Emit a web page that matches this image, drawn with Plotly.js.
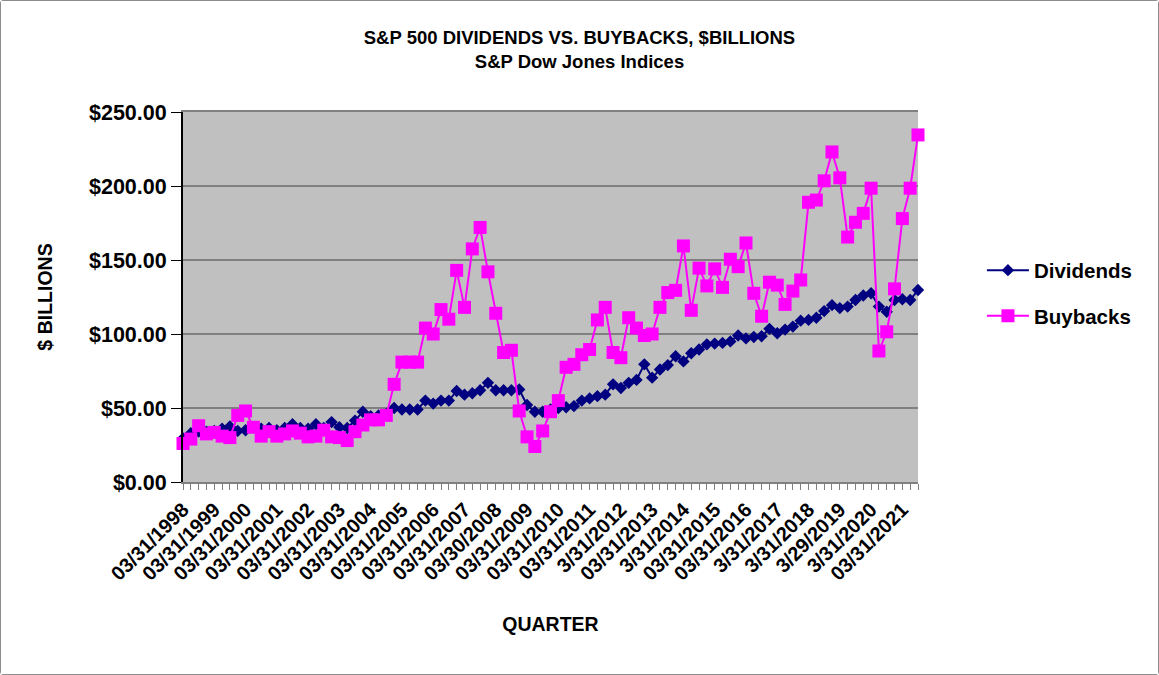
<!DOCTYPE html>
<html>
<head>
<meta charset="utf-8">
<script src="https://cdn.plot.ly/plotly-3.0.1.min.js"></script>
<style>
	html, body { margin: 0; padding: 0; background: #ffffff; }
	#chart { width: 1157px; height: 673px; border: 1px solid #8c8c8c; border-radius: 3px; }
</style>
</head>
<body>
<div id="chart"></div>
<script>
// labels on the first quarter of each year, as printed on the axis
var year_labels = [
	"03/31/1998", "03/31/1999", "03/31/2000", "03/31/2001", "03/31/2002",
	"03/31/2003", "03/31/2004", "03/31/2005", "03/31/2006", "03/31/2007",
	"03/30/2008", "03/31/2009", "03/31/2010", "03/31/2011", "3/31/2012",
	"03/31/2013", "3/31/2014", "03/31/2015", "03/31/2016", "3/31/2017",
	"3/31/2018", "3/29/2019", "3/31/2020", "03/31/2021"
];

// quarterly values, Q1 1998 .. Q3 2021, $ billions
var dividends = [
	29.5, 33, 34, 34, 34.5, 36, 37.5, 34.5, 35, 37,
	36, 36.5, 35, 36.5, 39, 36.5, 36, 39, 36.5, 40.5,
	37, 36.5, 41.5, 47.5, 44.5, 45, 46, 50, 49, 49,
	49, 55, 53, 55, 55, 61.5, 59, 60, 62, 67,
	62, 62, 62, 62.5, 52, 47.5, 47.5, 49, 50, 50.5,
	51.3, 55, 56.5, 58, 59, 66, 63.5, 67, 69, 79.5,
	70.5, 76, 79, 85, 81.5, 87, 89.5, 93, 93.5, 94,
	95, 99, 97, 98, 98.5, 103.5, 100.5, 103, 105, 109,
	109.5, 111, 115.5, 119.5, 117.5, 118.5, 123, 126, 127.5, 118.5,
	115, 123, 123.5, 123, 129.7
];

var buybacks = [
	26, 29, 38, 32.5, 33.5, 31, 30, 45, 48, 37,
	31, 34, 31, 32.5, 34.5, 33, 30.5, 31, 35, 30.5,
	30, 28, 34, 38.5, 42, 42, 45, 66, 81, 81,
	81, 104, 100, 116.5, 110, 143, 118, 157.5, 172, 142,
	114, 87.5, 89, 48, 30.5, 24, 34.5, 47.5, 55, 77.5,
	79.5, 86, 89.5, 109.5, 118, 87.5, 84, 111, 104, 99,
	100, 118, 128, 129.5, 159.5, 116, 144.5, 132.5, 144, 131.5,
	150.5, 145.5, 161.5, 127.5, 112, 135, 133, 120, 129, 136.5,
	189, 190.5, 203.5, 223, 205.5, 165.5, 175.5, 181.5, 198.5, 88.5,
	101.5, 130.5, 178, 198.5, 234.5
];

var font_family = "Liberation Sans, Arial, Helvetica, sans-serif";

function setup()
{
	var quarter = dividends.map((v, i) => i);
	var tick_pos = year_labels.map((s, i) => i * 4);

	var div_trace =
	{
		type: "scatter",
		mode: "lines+markers",
		name: "Dividends",
		legendgroup: "d",
		x: quarter,
		y: dividends,
		cliponaxis: false,
		line: {color: "#000080", width: 2},
		marker: {symbol: "diamond", size: 9.5, color: "#000080"},
		hoverinfo: "y"
	};

	var buy_trace =
	{
		type: "scatter",
		mode: "lines+markers",
		name: "Buybacks",
		legendgroup: "b",
		x: quarter,
		y: buybacks,
		cliponaxis: false,
		line: {color: "#ff00ff", width: 2},
		marker: {symbol: "square", size: 13, color: "#ff00ff"},
		hoverinfo: "y"
	};

	var layout =
	{
		width: 1157,
		height: 673,
		margin: {l: 182, r: 240, t: 111, b: 192},
		paper_bgcolor: "#ffffff",
		plot_bgcolor: "#c0c0c0",
		font: {family: font_family, color: "#000000", weight: "bold"},
		title: {
			text: "S&P 500 DIVIDENDS VS. BUYBACKS, $BILLIONS<br>S&P Dow Jones Indices",
			xref: "container",
			x: 0.5,
			xanchor: "center",
			yref: "container",
			y: 0.936,
			yanchor: "top",
			font: {family: font_family, size: 18.5, weight: "bold", color: "#000000"}
		},
		showlegend: true,
		legend: {
			x: 1.087,
			y: 0.51,
			xanchor: "left",
			yanchor: "middle",
			bgcolor: "rgba(0,0,0,0)",
			itemwidth: 42,
			tracegroupgap: 16,
			font: {family: font_family, size: 20.5, weight: "bold"}
		},
		xaxis: {
			range: [0, dividends.length - 1],
			tickmode: "array",
			tickvals: tick_pos,
			ticktext: year_labels,
			tickangle: -45,
			tickfont: {family: font_family, size: 20, weight: "bold"},
			ticks: "outside",
			ticklen: 6,
			tickcolor: "#808080",
			minor: {dtick: 1, tick0: 0, ticks: "outside", ticklen: 6, tickcolor: "#808080", showgrid: false},
			showgrid: false,
			zeroline: false,
			showline: true,
			linecolor: "#808080",
			linewidth: 2,
			mirror: true,
			title: {text: "QUARTER", standoff: 34, font: {family: font_family, size: 19.5, weight: "bold"}}
		},
		yaxis: {
			range: [0, 250],
			dtick: 50,
			tickformat: "$,.2f",
			tickfont: {family: font_family, size: 21.5, weight: "bold"},
			ticks: "outside",
			ticklen: 10,
			tickcolor: "#000000",
			showgrid: true,
			gridcolor: "#808080",
			gridwidth: 2,
			zeroline: false,
			showline: true,
			linecolor: "#000000",
			linewidth: 2,
			title: {text: "$ BILLIONS", standoff: 31, font: {family: font_family, size: 19.5, weight: "bold"}}
		}
	};

	Plotly.newPlot("chart", [div_trace, buy_trace], layout, {displayModeBar: false, staticPlot: true});
}

setup();
</script>
</body>
</html>
